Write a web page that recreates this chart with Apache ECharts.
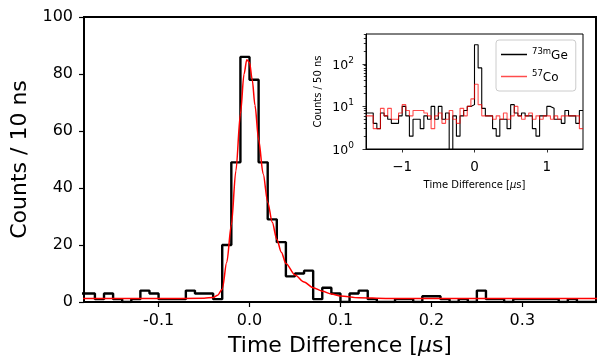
<!DOCTYPE html>
<html><head><meta charset="utf-8">
<script src="https://cdn.jsdelivr.net/npm/echarts@6/dist/echarts.min.js"></script>
<style>html,body{margin:0;padding:0;background:#fff}#c{width:597px;height:358px}</style>
</head><body><div id="c"></div>
<script>
// ---------- main histogram (10 ns bins) ----------
const mainBinStart = -0.19;
const mainBinWidth = 0.01;
const mainCounts = [3,3,1,3,1,0,1,4,3,1,1,1,4,3,3,1,20,49,86,78,49,29,21,9,10,11,1,5,3,0,3,4,1,0,0,1,1,0,2,2,1,0,1,0,4,1,1,0,1,1,1,1,1,0,1,0,0,0];
// fit curve
const fitX = [-0.19,-0.1,-0.05,-0.04,-0.035,-0.03,-0.025,-0.02,-0.015,-0.01,-0.006,-0.003,0.0,0.003,0.006,0.01,0.015,0.02,0.025,0.03,0.035,0.04,0.05,0.06,0.07,0.08,0.09,0.1,0.12,0.15,0.2,0.39];
const fitY = [1.2,1.2,1.3,1.6,2.4,4.5,14,27,46,66,80,85,84,78,69,57,45,35,28,22,17.5,13.5,9.5,7,5,3.8,2.8,2.1,1.5,1.25,1.2,1.2];
const mainXTicks = [-0.1,0.0,0.1,0.2,0.3];

// ---------- inset (50 ns bins) ----------
const insetBinStart = -1.5;
const insetBinWidth = 0.05;
const geCounts = [7,7,4,3,7,6,5,4,4,6,10,6,2,5,5,3,6,5,10,5,10,5,7,0,6,2,6,8,10,11,280,80,9,6,6,3,2,5,5,3,11,7,6,7,6,6,3,2,6,6,10,9,5,5,4,8,6,6,4,8];
const coCounts = [6,6,3,3,9,6,9,5,5,7,11,8,6,8,8,8,7,6,3,6,7,4,5,8,5,4,9,6,10,15,33,11,6,6,6,5,6,5,7,5,6,10,6,5,6,7,5,6,5,6,6,5,6,5,6,6,6,6,6,3];
const insetXTicks = [-1,0,1];
const insetYMajor = [1,10,100];
const insetYMinor = [2,3,4,5,6,7,8,9,20,30,40,50,60,70,80,90,200,300,400,500];

const FONT = 'DejaVu Sans';

function stepData(start, w, counts, floor) {
  const d = counts.map((c, i) => [start + i * w, (floor != null && c <= 0) ? floor : c]);
  const last = counts[counts.length - 1];
  d.push([start + counts.length * w, (floor != null && last <= 0) ? floor : last]);
  return d;
}
function fmtMinus(v){ return String(v).replace('-', '\u2212'); }

const chart = echarts.init(document.getElementById('c'), null, {renderer: 'canvas'});
chart.setOption({
  animation: false,
  backgroundColor: '#fff',
  textStyle: {fontFamily: FONT},
  grid: [
    {left: 84, right: 1, top: 17, bottom: 56, show: true, borderColor: '#000', borderWidth: 2, backgroundColor: '#fff', outerBoundsMode: 'none', containLabel: false},
    {left: 366, right: 14, top: 34, bottom: 209, show: true, borderColor: '#000', borderWidth: 1, backgroundColor: '#fff', outerBoundsMode: 'none', containLabel: false}
  ],
  xAxis: [
    {gridIndex: 0, type: 'value', min: -0.182, max: 0.381,
     axisLine: {show: true, onZero: false, lineStyle: {color: '#000', width: 2}},
     axisTick: {show: true, customValues: mainXTicks, length: 5, lineStyle: {color: '#000', width: 1.2}},
     axisLabel: {customValues: mainXTicks, formatter: v => v.toFixed(1), fontSize: 16, color: '#000', margin: 11, fontFamily: FONT},
     splitLine: {show: false},
     name: 'Time Difference [{i|μ}s]', nameLocation: 'middle', nameGap: 33,
     nameTextStyle: {fontSize: 22, color: '#000', fontFamily: FONT, rich: {i: {fontSize: 22, fontStyle: 'italic', fontFamily: FONT, color: '#000'}}}},
    {gridIndex: 1, type: 'value', min: -1.5, max: 1.5,
     axisLine: {show: true, onZero: false, lineStyle: {color: '#000', width: 1}},
     axisTick: {show: true, customValues: insetXTicks, length: 3.5, lineStyle: {color: '#000', width: 0.8}},
     axisLabel: {customValues: insetXTicks, formatter: v => fmtMinus(v), fontSize: 13.5, color: '#000', margin: 11, fontFamily: FONT},
     splitLine: {show: false},
     name: 'Time Difference [{i|μ}s]', nameLocation: 'middle', nameGap: 31,
     nameTextStyle: {fontSize: 10, color: '#000', fontFamily: FONT, rich: {i: {fontSize: 10, fontStyle: 'italic', fontFamily: FONT, color: '#000'}}}}
  ],
  yAxis: [
    {gridIndex: 0, type: 'value', min: 0, max: 100, interval: 20,
     axisLine: {show: true, onZero: false, lineStyle: {color: '#000', width: 2}},
     axisTick: {show: true, length: 5, lineStyle: {color: '#000', width: 1.2}},
     axisLabel: {fontSize: 16, color: '#000', margin: 11, fontFamily: FONT},
     splitLine: {show: false},
     name: 'Counts / 10 ns', nameLocation: 'middle', nameGap: 53,
     nameTextStyle: {fontSize: 22, color: '#000', fontFamily: FONT}},
    {gridIndex: 1, type: 'log', logBase: 10, min: 1, max: 500, position: 'left',
     axisLine: {show: true, onZero: false, lineStyle: {color: '#000', width: 1}},
     axisTick: {show: true, customValues: insetYMajor, length: 3.5, lineStyle: {color: '#000', width: 0.8}},
     axisLabel: {customValues: insetYMajor, margin: 12, color: '#000', fontFamily: FONT,
       formatter: v => '{b|10}{s|' + Math.round(Math.log10(v)) + '}',
       rich: {b: {fontSize: 12.5, fontFamily: FONT, color: '#000', verticalAlign: 'bottom', lineHeight: 16},
              s: {fontSize: 9, fontFamily: FONT, color: '#000', verticalAlign: 'top', lineHeight: 16}}},
     splitLine: {show: false}, minorTick: {show: false},
     name: 'Counts / 50 ns', nameLocation: 'middle', nameGap: 43,
     nameTextStyle: {fontSize: 10, color: '#000', fontFamily: FONT}},
    {gridIndex: 1, type: 'log', logBase: 10, min: 1, max: 500, position: 'left', offset: 0,
     axisLine: {show: false, onZero: false},
     axisTick: {show: true, customValues: insetYMinor, length: 2.2, lineStyle: {color: '#000', width: 0.8}},
     axisLabel: {show: false},
     splitLine: {show: false}}
  ],
  legend: {
    show: true, orient: 'vertical', left: 496, top: 40,
    padding: [7, 8, 7, 5], itemGap: 7, itemWidth: 26, itemHeight: 1.5, icon: 'rect',
    backgroundColor: 'rgba(255,255,255,0.8)', borderColor: '#ccc', borderWidth: 1, borderRadius: 3,
    data: ['73mGe', '57Co'],
    formatter: name => {
      const m = name.match(/^(\d+m?)(.*)$/);
      return '{s|' + m[1] + '}{t|' + m[2] + '}';
    },
    textStyle: {color: '#000', fontFamily: FONT,
      rich: {s: {fontSize: 8.5, fontFamily: FONT, color: '#000', verticalAlign: 'top', lineHeight: 15},
             t: {fontSize: 12, fontFamily: FONT, color: '#000', verticalAlign: 'bottom', lineHeight: 15}}}
  },
  series: [
    {name: 'hist', type: 'line', xAxisIndex: 0, yAxisIndex: 0, step: 'end', symbol: 'none',
     data: stepData(mainBinStart, mainBinWidth, mainCounts), clip: true,
     lineStyle: {color: '#000', width: 2.4}, z: 3},
    {name: 'fit', type: 'line', xAxisIndex: 0, yAxisIndex: 0, symbol: 'none', smooth: 0.3, smoothMonotone: 'x',
     data: fitX.map((x, i) => [x, fitY[i]]), clip: true,
     lineStyle: {color: '#ff0000', width: 1.5}, z: 4},
    {name: '73mGe', type: 'line', xAxisIndex: 1, yAxisIndex: 1, step: 'end', symbol: 'none',
     data: stepData(insetBinStart, insetBinWidth, geCounts, 0.1), clip: true,
     lineStyle: {color: '#000', width: 1.1}, itemStyle: {color: '#000'}, z: 5},
    {name: '57Co', type: 'line', xAxisIndex: 1, yAxisIndex: 1, step: 'end', symbol: 'none',
     data: stepData(insetBinStart, insetBinWidth, coCounts, 0.1), clip: true,
     lineStyle: {color: 'rgba(255,0,0,0.7)', width: 1.1}, itemStyle: {color: 'rgba(255,0,0,0.7)'}, z: 6}
  ]
});
</script>
</body></html>
